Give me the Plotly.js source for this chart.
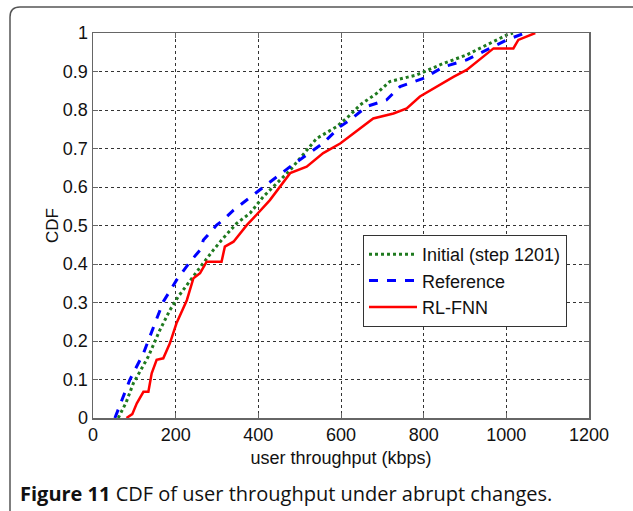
<!DOCTYPE html>
<html>
<head>
<meta charset="utf-8">
<script src="https://cdn.plot.ly/plotly-3.0.1.min.js"></script>
<style>
html,body{margin:0;padding:0;background:#fff;}
#chart{width:633px;height:511px;}
</style>
</head>
<body>
<div id="chart"></div>
<script>
// Data
var seriesNames = ["Initial (step 1201)", "Reference", "RL-FNN"];

var initialX = [61, 80, 97.5, 134, 162, 186, 206, 235, 263, 291, 315, 348, 380, 412, 477, 541, 590, 622, 646, 686, 718, 783, 848, 904, 952, 1001, 1016];
var initialY = [0, 0.04, 0.09, 0.16, 0.229, 0.28, 0.315, 0.358, 0.397, 0.436, 0.467, 0.506, 0.532, 0.575, 0.644, 0.726, 0.757, 0.787, 0.813, 0.843, 0.874, 0.891, 0.921, 0.943, 0.969, 0.995, 1.0];

var referenceX = [53, 89, 122, 146, 170, 202, 235, 259, 267, 299, 315, 340, 404, 477, 557, 598, 622, 662, 710, 743, 799, 848, 904, 969, 1001, 1045];
var referenceY = [0, 0.099, 0.168, 0.237, 0.302, 0.358, 0.406, 0.436, 0.462, 0.501, 0.514, 0.54, 0.592, 0.653, 0.714, 0.757, 0.774, 0.809, 0.826, 0.861, 0.882, 0.912, 0.93, 0.965, 0.982, 1.0];

var rlfnnX = [81, 95, 106, 122, 134, 142, 154, 170, 186, 202, 227, 243, 259, 275, 311, 319, 340, 372, 388, 428, 477, 517, 557, 598, 630, 678, 727, 759, 791, 832, 872, 904, 944, 969, 1017, 1029, 1070];
var rlfnnY = [0, 0.01, 0.038, 0.068, 0.068, 0.116, 0.151, 0.155, 0.194, 0.246, 0.306, 0.363, 0.376, 0.406, 0.406, 0.445, 0.458, 0.501, 0.519, 0.566, 0.636, 0.653, 0.688, 0.713, 0.739, 0.778, 0.791, 0.804, 0.835, 0.861, 0.886, 0.904, 0.938, 0.96, 0.96, 0.982, 1.0];

var xTicks = [0, 200, 400, 600, 800, 1000, 1200];
var yTicks = [0, 0.1, 0.2, 0.3, 0.4, 0.5, 0.6, 0.7, 0.8, 0.9, 1];
var yTickText = ["0", "0.1", "0.2", "0.3", "0.4", "0.5", "0.6", "0.7", "0.8", "0.9", "1"];

var traces = [
  {x: initialX, y: initialY, name: seriesNames[0], mode: "lines",
   line: {color: "#1f7a1f", width: 3, dash: "dot"}},
  {x: referenceX, y: referenceY, name: seriesNames[1], mode: "lines",
   line: {color: "#0000ff", width: 3, dash: "dash"}},
  {x: rlfnnX, y: rlfnnY, name: seriesNames[2], mode: "lines",
   line: {color: "#ff0000", width: 2.5}}
];

var fam = "Liberation Sans, Arial, sans-serif";
var axisFont = {family: fam, size: 18, color: "#111"};

var layout = {
  width: 633, height: 511,
  margin: {l: 93, r: 44, t: 33, b: 93},
  paper_bgcolor: "#fff", plot_bgcolor: "#fff",
  showlegend: true,
  xaxis: {
    range: [0, 1200], tickvals: xTicks, ticktext: xTicks.map(String),
    showgrid: true, gridcolor: "#333", gridwidth: 1, griddash: "3px,3px",
    zeroline: false, showline: true, linecolor: "#666", linewidth: 1.5, mirror: "ticks",
    ticks: "inside", ticklen: 5, tickcolor: "#666",
    tickfont: axisFont,
    title: {text: "user throughput (kbps)", font: {family: fam, size: 18, color: "#111"}, standoff: 7}
  },
  yaxis: {
    range: [0, 1], tickvals: yTicks, ticktext: yTickText,
    showgrid: true, gridcolor: "#333", gridwidth: 1, griddash: "3px,3px",
    zeroline: false, showline: true, linecolor: "#666", linewidth: 1.5, mirror: "ticks",
    ticks: "inside", ticklen: 5, tickcolor: "#666",
    tickfont: axisFont,
    title: {text: "CDF", font: {family: fam, size: 17, color: "#111"}, standoff: 0}
  },
  legend: {
    x: (363 - 93) / 496, y: (418 - 235) / 385, xanchor: "left", yanchor: "top",
    bgcolor: "#fff", bordercolor: "#333", borderwidth: 1,
    font: {family: fam, size: 18, color: "#111"},
    itemwidth: 48,
    tracegroupgap: 0
  },
  shapes: [{
    type: "path", xref: "paper", yref: "paper",
    path: "M " + ((10 - 93) / 496) + "," + ((418 - 520) / 385) +
          " L " + ((10 - 93) / 496) + "," + ((418 - 17) / 385) +
          " Q " + ((10 - 93) / 496) + "," + ((418 - 7) / 385) + " " + ((20 - 93) / 496) + "," + ((418 - 7) / 385) +
          " L " + ((640 - 93) / 496) + "," + ((418 - 7) / 385),
    line: {color: "#555", width: 1.5}
  }],
  annotations: [{
    xref: "paper", yref: "paper",
    x: (18 - 93) / 496, y: (418 - 493) / 385, xanchor: "left", yanchor: "middle",
    showarrow: false,
    text: "<b>Figure 11</b> CDF of user throughput under abrupt changes.",
    font: {family: "Open Sans, sans-serif", size: 20, color: "#111"}
  }]
};

Plotly.newPlot("chart", traces, layout, {displayModeBar: false, staticPlot: true});
</script>
</body>
</html>
